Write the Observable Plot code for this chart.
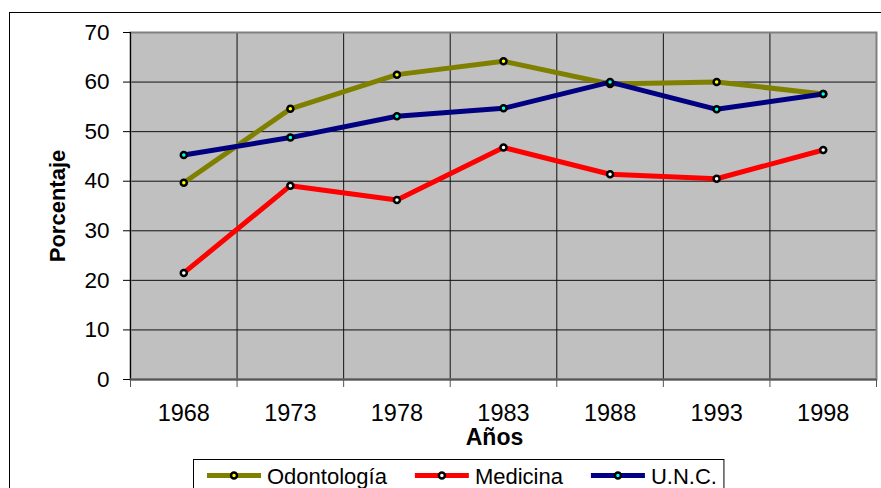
<!DOCTYPE html>
<html>
<head>
<meta charset="utf-8">
<script src="https://cdn.jsdelivr.net/npm/d3@7"></script>
<script src="https://cdn.jsdelivr.net/npm/@observablehq/plot@0.6"></script>
<style>
  html, body { margin: 0; padding: 0; background: white; }
  svg { display: block; }
</style>
</head>
<body>
<div id="chart"></div>
<script>
const years = [1968, 1973, 1978, 1983, 1988, 1993, 1998];
const odontologia = [39.7, 54.6, 61.5, 64.2, 59.6, 60.0, 57.6];
const medicina = [21.5, 39.1, 36.2, 46.8, 41.4, 40.5, 46.3];
const unc = [45.3, 48.8, 53.1, 54.7, 60.0, 54.5, 57.6];
const seriesNames = ["Odontología", "Medicina", "U.N.C."];
const seriesValues = [odontologia, medicina, unc];
const lineColors = ["#808000", "#FF0000", "#000080"];
const markerFills = ["#FFFF00", "#FFFFFF", "#00FFFF"];
const yTicks = [0, 10, 20, 30, 40, 50, 60, 70];
const xTitle = "Años";
const yTitle = "Porcentaje";

const font = "'Liberation Sans', Arial, sans-serif";
const step = years[1] - years[0];
const bounds = d3.range(years.length + 1).map(i => years[0] - step / 2 + i * step);

const marks = [
  Plot.frame({fill: "#C0C0C0", stroke: null}),
  Plot.gridX(bounds.slice(1, -1), {stroke: "#111", strokeOpacity: 1, strokeWidth: 1}),
  Plot.gridY(yTicks.slice(1, -1), {stroke: "#111", strokeOpacity: 1, strokeWidth: 1}),
  Plot.frame({stroke: "#808080", strokeWidth: 2}),
  Plot.ruleX([bounds[0]], {stroke: "#000", strokeWidth: 1}),
  Plot.ruleY([0], {stroke: "#555", strokeWidth: 2}),
  Plot.axisY(yTicks, {tickSize: 7, tickPadding: 14, fontSize: 22.5, stroke: "#000", label: null}),
  Plot.axisX(bounds, {tickSize: 8, tickFormat: () => "", stroke: "#555", label: null}),
  Plot.axisX(years, {tickSize: 0, tickPadding: 25, fontSize: 23.5, tickFormat: d => String(d), label: null}),
  Plot.text([yTitle], {frameAnchor: "left", textAnchor: "middle", lineAnchor: "middle", dx: -73, rotate: -90, fontWeight: "bold", fontSize: 22, text: d => d}),
  Plot.text([xTitle], {frameAnchor: "bottom", textAnchor: "middle", lineAnchor: "middle", dx: -9, dy: 58, fontWeight: "bold", fontSize: 23, text: d => d})
];

seriesNames.forEach((name, i) => {
  const rows = years.map((y, j) => ({year: y, value: seriesValues[i][j], series: name}));
  marks.push(Plot.line(rows, {x: "year", y: "value", stroke: lineColors[i], strokeWidth: 5, strokeLinejoin: "round"}));
  marks.push(Plot.dot(rows, {x: "year", y: "value", r: 3, fill: markerFills[i], stroke: "#000", strokeWidth: 2.5}));
});

const chart = Plot.plot({
  width: 881,
  height: 488,
  marginLeft: 130,
  marginRight: 5,
  marginTop: 32,
  marginBottom: 109,
  style: {fontFamily: font, color: "#000", background: "white", overflow: "hidden"},
  x: {type: "linear", domain: [bounds[0], bounds[bounds.length - 1]]},
  y: {domain: [yTicks[0], yTicks[yTicks.length - 1]]},
  marks
});

document.getElementById("chart").appendChild(chart);

// outer chart-area border
const svg = d3.select(chart);
svg.insert("rect", ":first-child")
  .attr("x", 9.5).attr("y", 12.5).attr("width", 1000).attr("height", 1000)
  .attr("fill", "none").attr("stroke", "#000").attr("stroke-width", 1);

// legend
const lg = svg.append("g").attr("font-family", font).attr("font-size", 22).attr("text-anchor", "start");
const box = lg.append("rect").attr("x", 193.5).attr("y", 459.5).attr("height", 60)
  .attr("fill", "white").attr("stroke", "#000").attr("stroke-width", 1);
let lx = 207;
const ly = 475.5;
seriesNames.forEach((name, i) => {
  lg.append("line").attr("x1", lx).attr("x2", lx + 54).attr("y1", ly).attr("y2", ly)
    .attr("stroke", lineColors[i]).attr("stroke-width", 5);
  lg.append("circle").attr("cx", lx + 27).attr("cy", ly).attr("r", 3)
    .attr("fill", markerFills[i]).attr("stroke", "#000").attr("stroke-width", 2.5);
  const t = lg.append("text").attr("x", lx + 60).attr("y", 484).attr("fill", "#000")
    .attr("text-anchor", "start").text(name);
  const w = t.node().getComputedTextLength();
  lx = lx + 60 + w + 28;
  if (i === seriesNames.length - 1) box.attr("width", lx - 28 + 7 - 193.5);
});
</script>
</body>
</html>
